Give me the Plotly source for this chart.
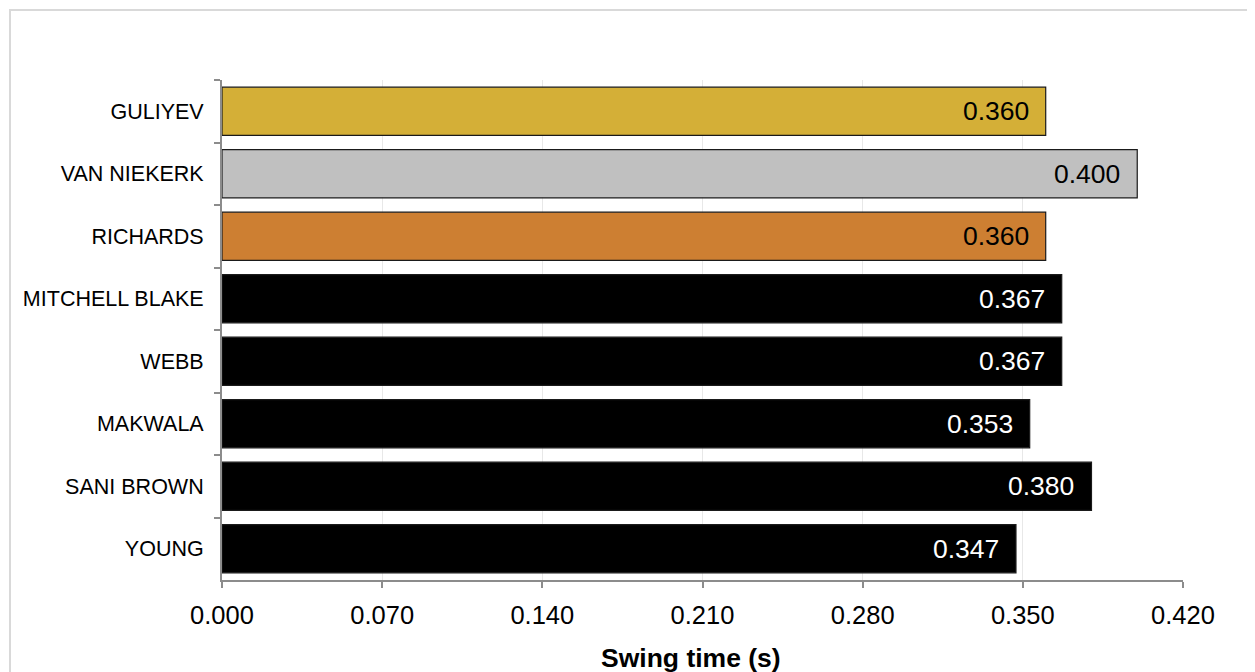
import plotly.graph_objects as go

athletes = ["GULIYEV", "VAN NIEKERK", "RICHARDS", "MITCHELL BLAKE", "WEBB",
            "MAKWALA", "SANI BROWN", "YOUNG"]
swing_time = [0.360, 0.400, 0.360, 0.367, 0.367, 0.353, 0.380, 0.347]
bar_colors = ["#D4AF37", "#C0C0C0", "#CD7F32", "#000000", "#000000",
              "#000000", "#000000", "#000000"]
label_colors = ["#000000", "#000000", "#000000", "#FFFFFF", "#FFFFFF",
                "#FFFFFF", "#FFFFFF", "#FFFFFF"]
x_ticks = [0.0, 0.07, 0.14, 0.21, 0.28, 0.35, 0.42]
x_title = "Swing time (s)"

W, H = 1255, 672
ml, mr, mt, mb = 214, 80, 72, 100

fig = go.Figure()
fig.add_trace(go.Bar(
    x=swing_time, y=athletes, orientation="h",
    marker=dict(color=bar_colors, line=dict(color="#1a1a1a", width=1.2)),
    width=0.77, hoverinfo="skip",
))

for a, v, c in zip(athletes, swing_time, label_colors):
    fig.add_annotation(x=v, y=a, xref="x", yref="y", text=f"{v:.3f}",
                       showarrow=False, xanchor="right", yanchor="middle",
                       xshift=-15, font=dict(size=26.5, color=c,
                                             family="Liberation Sans, Arial"))

pw = W - ml - mr
ph = H - mt - mb

# axis title (slightly left of plot centre, as in the reference)
fig.add_annotation(x=(683 - ml) / pw, y=-(650 - (H - mb)) / ph,
                   xref="paper", yref="paper", text=f"<b>{x_title}</b>",
                   showarrow=False, xanchor="center", yanchor="middle",
                   font=dict(size=26.5, color="#000000",
                             family="Liberation Sans, Arial"))

fig.add_shape(type="rect", xref="paper", yref="paper",
              x0=(2 - ml) / pw, x1=(W + 20 - ml) / pw,
              y0=(H - 700 - mb) / ph, y1=(H - 2 - mb) / ph,
              line=dict(color="#D9D9D9", width=2), fillcolor="rgba(0,0,0,0)",
              layer="below")

fig.update_layout(
    width=W, height=H,
    margin=dict(l=ml, r=mr, t=mt, b=mb, pad=0),
    paper_bgcolor="white", plot_bgcolor="white",
    showlegend=False,
    font=dict(family="Liberation Sans, Arial", color="#000000"),
    xaxis=dict(
        range=[0, 0.42], tickvals=x_ticks,
        ticktext=[f"{t:.3f}" for t in x_ticks],
        tickfont=dict(size=25.5), showgrid=True, gridcolor="#E8E8E8", gridwidth=1,
        showline=True, linecolor="#8C8C8C", linewidth=2,
        ticks="outside", ticklen=6, tickcolor="#8C8C8C", tickwidth=2,
        zeroline=False, ticklabelstandoff=5,
    ),
    yaxis=dict(
        categoryorder="array", categoryarray=athletes, autorange="reversed",
        tickfont=dict(size=21.5), showgrid=False,
        showline=True, linecolor="#8C8C8C", linewidth=2,
        ticks="outside", ticklen=6, tickcolor="#8C8C8C", tickwidth=2,
        tickson="boundaries", ticklabelstandoff=12,
    ),
    bargap=0.23,
)

fig.write_html("out.html")
